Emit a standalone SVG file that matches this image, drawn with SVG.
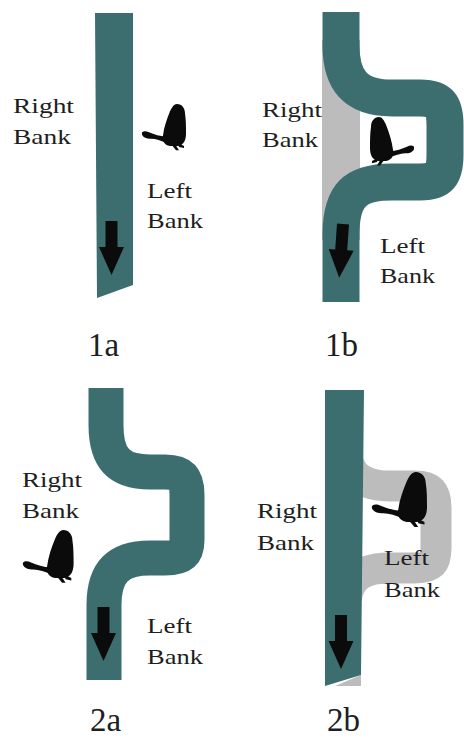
<svg xmlns="http://www.w3.org/2000/svg" xmlns:xlink="http://www.w3.org/1999/xlink" width="464" height="740" viewBox="0 0 464 740">
  <style>
    .river { fill: #3d6e6f; }
    .river-line { fill: none; stroke: #3d6e6f; stroke-linecap: butt; }
    .old { fill: #bcbcbc; }
    .old-line { fill: none; stroke: #bcbcbc; stroke-linecap: butt; }
    .bank { font-family: "Liberation Serif", "Times New Roman", serif; font-size: 22px; fill: #1e1e1e; }
    .caption { font-family: "Liberation Serif", "Times New Roman", serif; font-size: 33px; fill: #1e1e1e; }
    .ink { fill: #0b0b0b; }
  </style>
  <defs>
    <!-- downstream flow arrow, origin at top centre of the shaft -->
    <path id="flow-arrow" class="ink" d="M-6,0 H6 V26 H12.5 L0,54 L-12.5,26 H-6 Z"/>
    <!-- sitting beaver silhouette, tail pointing left, tail tip at x=0 -->
    <g id="beaver" class="ink">
      <path d="M35,0 C40,0 43,4 43,9 C44,15 44,22 44,28 C44,34 42,39 36,40 L28,40 C22,39 20,35 21,30 C22,22 25,14 28,7 C30,3 32,0 35,0 Z"/>
      <path d="M24,31 C18,31 12,29 7,27 C3,25 -1,26 0,29 C1,32 5,33 9,33 C14,33 19,35 25,37 Z"/>
      <path d="M28,37 L34,44 L37,44 L33,38 Z"/>
      <path d="M36,37 L42,40 L42,42 L37,41 Z"/>
    </g>
  </defs>

  <!-- 1a: straight channel -->
  <g id="panel-1a">
    <polygon class="river" points="95,13 133,13 133,285 97,298"/>
    <use xlink:href="#flow-arrow" transform="translate(111.5,221)"/>
    <use xlink:href="#beaver" transform="translate(142,104) scale(1,1.05)"/>
    <text class="bank" x="13" y="113" textLength="61" lengthAdjust="spacingAndGlyphs">Right</text>
    <text class="bank" x="13" y="144" textLength="58" lengthAdjust="spacingAndGlyphs">Bank</text>
    <text class="bank" x="147" y="198" textLength="45" lengthAdjust="spacingAndGlyphs">Left</text>
    <text class="bank" x="147" y="228" textLength="56" lengthAdjust="spacingAndGlyphs">Bank</text>
    <text class="caption" x="88" y="356">1a</text>
  </g>

  <!-- 1b: meander cut into the left bank, old channel left behind -->
  <g id="panel-1b">
    <rect class="old" x="322" y="40" width="38" height="200"/>
    <path class="river-line" stroke-width="37" d="M341,12 V45 C341,80 355,98 392,98 H420 C440,98 445,105 445,125 V155 C445,175 440,182 420,182 H392 C355,182 341,195 341,235 V302"/>
    <use xlink:href="#flow-arrow" transform="translate(343,224) rotate(4)"/>
    <use xlink:href="#beaver" transform="translate(414,117) scale(-1,1.1)"/>
    <text class="bank" x="262" y="117" textLength="60" lengthAdjust="spacingAndGlyphs">Right</text>
    <text class="bank" x="262" y="147" textLength="56" lengthAdjust="spacingAndGlyphs">Bank</text>
    <text class="bank" x="380" y="253" textLength="45" lengthAdjust="spacingAndGlyphs">Left</text>
    <text class="bank" x="380" y="283" textLength="55" lengthAdjust="spacingAndGlyphs">Bank</text>
    <text class="caption" x="325" y="356">1b</text>
  </g>

  <!-- 2a: meandering channel -->
  <g id="panel-2a">
    <path class="river-line" stroke-width="35" d="M106,388 V425 C106,460 120,472 150,472 H165 C182,472 187,478 187,495 V540 C187,553 182,558 165,558 H150 C118,558 104,572 104,605 V680"/>
    <use xlink:href="#flow-arrow" transform="translate(103.5,607)"/>
    <use xlink:href="#beaver" transform="translate(23,530) scale(1.15,1.2)"/>
    <text class="bank" x="22" y="487" textLength="60" lengthAdjust="spacingAndGlyphs">Right</text>
    <text class="bank" x="22" y="518" textLength="57" lengthAdjust="spacingAndGlyphs">Bank</text>
    <text class="bank" x="147" y="633" textLength="45" lengthAdjust="spacingAndGlyphs">Left</text>
    <text class="bank" x="147" y="664" textLength="56" lengthAdjust="spacingAndGlyphs">Bank</text>
    <text class="caption" x="90" y="731">2a</text>
  </g>

  <!-- 2b: channel straightened, abandoned meander on the left bank -->
  <g id="panel-2b">
    <path class="old-line" stroke-width="31" d="M344,430 C344,470 355,486 390,486 H415 C432,486 436,492 436,508 V548 C436,563 432,568 415,568 H390 C356,568 344,580 344,625"/>
    <polygon class="old" points="335,686 361,686 361,675"/>
    <polygon class="river" points="325,390 364,390 361,675 325,686"/>
    <use xlink:href="#flow-arrow" transform="translate(341,615)"/>
    <use xlink:href="#beaver" transform="translate(372,472) scale(1.25,1.25)"/>
    <text class="bank" x="257" y="518" textLength="60" lengthAdjust="spacingAndGlyphs">Right</text>
    <text class="bank" x="257" y="550" textLength="57" lengthAdjust="spacingAndGlyphs">Bank</text>
    <text class="bank" x="384" y="565" textLength="45" lengthAdjust="spacingAndGlyphs">Left</text>
    <text class="bank" x="384" y="597" textLength="56" lengthAdjust="spacingAndGlyphs">Bank</text>
    <text class="caption" x="327" y="731">2b</text>
  </g>
</svg>
